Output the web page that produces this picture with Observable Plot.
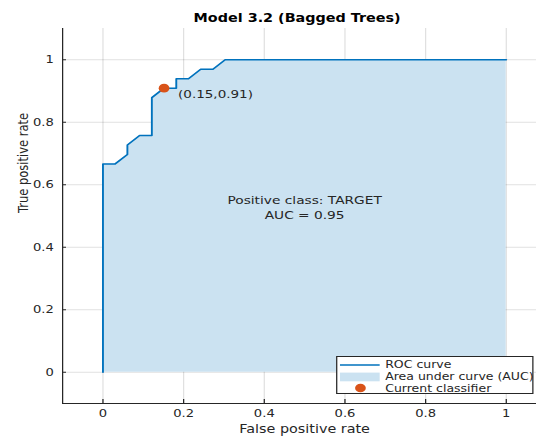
<!DOCTYPE html>
<html><head><meta charset="utf-8">
<script src="https://cdn.jsdelivr.net/npm/d3@7"></script>
<script src="https://cdn.jsdelivr.net/npm/@observablehq/plot@0.6"></script>
<style>
html,body{margin:0;padding:0;background:#fff;overflow:hidden;}
#wrap{position:relative;width:429px;height:442px;transform:scaleX(1.2494);transform-origin:0 0;font-family:"DejaVu Sans",sans-serif;color:#262626;}
#legend{position:absolute;left:268.8px;top:356px;width:158px;height:38px;border:1px solid #262626;background:#fff;padding-top:2px;box-sizing:border-box;font-size:10px;}
#legend .row{display:flex;align-items:center;height:11.8px;white-space:nowrap;}
#legend svg{flex:none;margin-left:2.5px;margin-right:4px;}
</style></head><body><div id="wrap"></div>
<script>
// ROC curve points (false positive rate, true positive rate)
const fpr = [0, 0, 0.0303, 0.0606, 0.0606, 0.0909, 0.1212, 0.1212, 0.1515, 0.1818, 0.1818, 0.2121, 0.2424, 0.2727, 0.3030, 1];
const tpr = [0, 0.6667, 0.6667, 0.6970, 0.7273, 0.7576, 0.7576, 0.8788, 0.9091, 0.9091, 0.9394, 0.9394, 0.9697, 0.9697, 1, 1];
// current classifier operating point
const currentFpr = [0.1515];
const currentTpr = [0.9091];
const currentLabel = ["(0.15,0.91)"];
const xTicks = [0, 0.2, 0.4, 0.6, 0.8, 1];
const yTicks = [0, 0.2, 0.4, 0.6, 0.8, 1];
const xTickLabels = ["0", "0.2", "0.4", "0.6", "0.8", "1"];
const yTickLabels = ["0", "0.2", "0.4", "0.6", "0.8", "1"];
const xDomain = [-0.1, 1.1];
const yDomain = [-0.1, 1.1];
const titleText = "Model 3.2 (Bagged Trees)";
const xLabel = "False positive rate";
const yLabel = "True positive rate";
const centerText = "Positive class: TARGET\nAUC = 0.95";
const legendLabels = ["ROC curve", "Area under curve (AUC)", "Current classifier"];

const S = 1.2494;
const W = 429;
const roc = fpr.map((f, i) => ({fpr: f, tpr: tpr[i]}));
const cur = currentFpr.map((f, i) => ({fpr: f, tpr: currentTpr[i], label: currentLabel[i]}));
const ink = "#262626";
const blue = "#0072bd";
const fillBlue = "#cbe2f1";
const orange = "#d95319";

const plot = Plot.plot({
  width: W,
  height: 442,
  marginLeft: 62 / S,
  marginRight: W - 546 / S,
  marginTop: 28,
  marginBottom: 39,
  style: {fontFamily: "DejaVu Sans", fontSize: "10.5px", color: ink, background: "white"},
  x: {domain: xDomain},
  y: {domain: yDomain},
  marks: [
    Plot.gridX(xTicks, {stroke: "#000", strokeOpacity: 0.12}),
    Plot.gridY(yTicks, {stroke: "#000", strokeOpacity: 0.12}),
    Plot.area(roc, {x1: "fpr", y1: 0, y2: "tpr", fill: fillBlue, fillOpacity: 1}),
    Plot.line(roc, {x: "fpr", y: "tpr", stroke: blue, strokeWidth: 1.5}),
    Plot.dot(cur, {x: "fpr", y: "tpr", r: 4.3, fill: orange, stroke: null}),
    Plot.text(cur, {x: "fpr", y: "tpr", text: "label", textAnchor: "start", dx: 11.2, dy: 6, fontSize: 10.8, fill: ink}),
    Plot.text([centerText], {frameAnchor: "middle", lineAnchor: "middle", dy: -9, lineHeight: 1.28, fontSize: 11, fill: ink}),
    Plot.ruleX([xDomain[0]], {stroke: ink, strokeWidth: 1}),
    Plot.ruleY([yDomain[0]], {stroke: ink, strokeWidth: 1}),
    // inward tick marks
    Plot.axisX(xTicks, {anchor: "bottom", tickSize: 4, dy: -4, tickFormat: () => "", label: null, stroke: ink}),
    Plot.axisY(yTicks, {anchor: "left", tickSize: 4 / S, dx: 4 / S, tickFormat: () => "", label: null, stroke: ink}),
    // tick labels
    Plot.axisX(xTicks, {anchor: "bottom", tickSize: 0, tickPadding: 6, tickFormat: (d, i) => xTickLabels[i], label: null, fill: ink}),
    Plot.axisY(yTicks, {anchor: "left", tickSize: 0, tickPadding: 7, tickFormat: (d, i) => yTickLabels[i], label: null, fill: ink}),
    Plot.text([titleText], {frameAnchor: "top", lineAnchor: "middle", dy: -10, dx: -6, fontWeight: "bold", fontSize: 11.5, fill: "#000"}),
    Plot.text([xLabel], {frameAnchor: "bottom", lineAnchor: "middle", dy: 26, fontSize: 11.5, fill: ink}),
    Plot.text([yLabel], {frameAnchor: "left", lineAnchor: "middle", rotate: -90, dx: -31, dy: -3, fontSize: 11.5, fill: ink})
  ]
});
const wrap = document.getElementById("wrap");
wrap.appendChild(plot);

// legend
const legend = document.createElement("div");
legend.id = "legend";
const swatches = [
  '<svg width="32" height="10"><line x1="0" x2="32" y1="5" y2="5" stroke="' + blue + '" stroke-width="1.5"/></svg>',
  '<svg width="32" height="10"><rect x="0" y="0.6" width="32" height="8.7" fill="' + fillBlue + '"/></svg>',
  '<svg width="32" height="10"><ellipse cx="16.5" cy="5" rx="4.3" ry="4.3" fill="' + orange + '"/></svg>'
];
legendLabels.forEach((l, i) => {
  const row = document.createElement("div");
  row.className = "row";
  row.innerHTML = swatches[i] + "<span>" + l + "</span>";
  legend.appendChild(row);
});
wrap.appendChild(legend);
</script>
</body></html>
